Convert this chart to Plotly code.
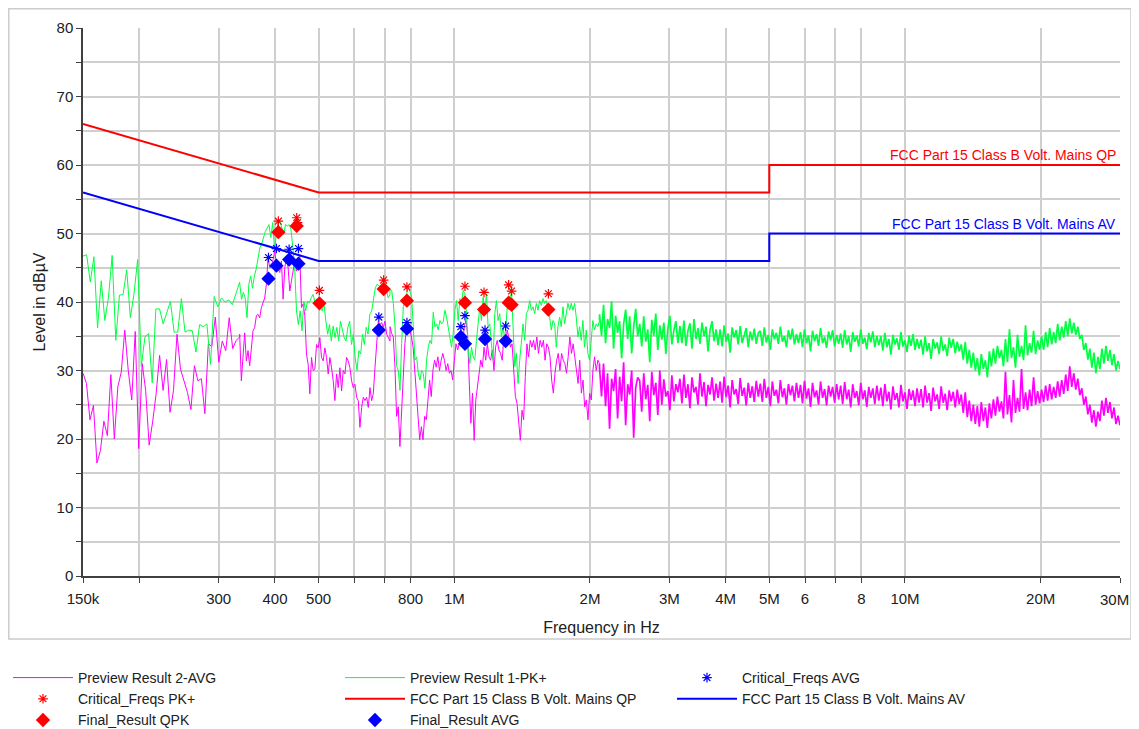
import numpy as np
import plotly.graph_objects as go

# ---------------- data ----------------
# sweep segment edges (Hz)
SEG_EDGES = [150e3, 334e3, 720e3, 2.1e6, 30e6]

# Preview Result 1-PK+ (green), per segment, dBuV
pk_seg1 = [46.7, 46.9, 42.9, 46.6, 36.2, 43.1, 37.3, 40.7, 46.8, 34.4, 41.0, 41.1, 44.7, 37.7, 41.2, 46.2,
           30.6, 34.9, 35.4, 28.2, 39.0, 39.0, 36.8, 38.5, 40.1, 35.6, 35.6, 40.5, 35.6, 35.9, 35.8, 32.7,
           36.7, 36.4, 36.8, 30.9, 40.8, 39.3, 40.6, 40.0, 40.3, 39.6, 41.1, 42.9]
pk_seg2 = [42.8, 40.4, 41.4, 40.6, 37.7, 42.6, 43.8, 42.0, 43.8, 44.8, 46.5, 47.9, 48.5, 49.4, 50.3, 50.8,
           51.3, 49.4, 51.6, 47.7, 50.1, 52.0, 51.7, 50.8, 49.9, 51.3, 51.1, 51.3, 50.6, 47.9, 45.0, 38.7,
           36.7, 38.7, 35.8, 40.1, 38.7, 40.1, 39.9, 40.6, 41.1, 40.1, 40.4, 39.2, 40.1, 38.7, 39.7, 37.2,
           35.3, 36.7, 34.3, 36.5, 34.8, 36.3, 34.3, 37.2, 35.8, 34.8, 34.3, 36.3, 37.2, 33.8, 35.3, 31.9,
           30.0, 32.9, 32.4, 35.3, 33.8, 36.3, 35.3, 38.2, 38.7, 40.6, 42.1, 42.6, 42.3, 42.1, 41.6, 42.3,
           41.8, 40.6, 41.1]
pk_seg3 = [41.9, 41.7, 39.8, 36.4, 30.6, 30.0, 27.1, 33.9, 39.3, 40.2, 41.2, 42.2, 41.5, 40.7, 36.4, 31.5,
           32.0, 29.6, 28.6, 30.0, 29.6, 27.4, 31.5, 33.4, 34.4, 33.9, 38.5, 36.4, 36.8, 35.9, 37.3, 36.8,
           37.1, 38.8, 37.8, 36.4, 34.9, 33.4, 35.4, 38.8, 40.2, 37.3, 40.5, 39.8, 41.7, 41.2, 38.3, 33.0,
           31.0, 33.4, 32.0, 31.5, 34.4, 36.4, 39.3, 37.3, 40.7, 38.3, 41.2, 36.4, 36.8, 33.9, 31.5, 38.3,
           40.2, 37.3, 38.3, 34.9, 36.4, 34.4, 38.3, 40.7, 38.8, 42.2, 36.4, 30.6, 32.5, 28.1, 31.5, 33.9,
           36.8, 34.4, 38.3, 38.8, 40.2, 38.8, 39.3, 38.3, 39.8, 38.8, 40.2, 39.5, 40.5, 39.8, 40.2, 39.0,
           37.8, 35.9, 37.3, 36.8, 33.4, 36.4, 37.8, 36.4, 39.3, 36.8, 38.3, 39.8, 38.8, 39.8, 38.8, 39.8,
           37.8, 34.9, 36.4, 34.4, 37.3, 33.4, 35.9, 32.5, 31.5, 33.9, 37.3, 35.9, 36.8, 36.4, 37.3]
pk_seg4 = [38.2, 35.1, 39.6, 34.0, 37.5, 36.2, 40.1, 33.2, 38.0, 35.5, 37.2, 31.8, 36.8, 38.9, 34.6, 37.9, 32.5, 36.4, 39.0, 35.0,
           36.8, 33.5, 37.9, 34.2, 36.0, 31.2, 37.4, 35.1, 38.3, 33.0, 36.6, 34.5, 37.0, 32.4, 36.2, 38.0, 33.8, 35.9, 37.2, 34.0,
           36.5, 34.0, 37.3, 33.6, 35.8, 36.9, 33.2, 37.5, 34.6, 36.2, 33.9, 37.0, 35.0, 36.4, 32.8, 35.9, 37.2, 34.3, 36.0, 33.7,
           36.0, 33.5, 36.6, 34.2, 35.4, 32.6, 36.3, 34.8, 35.9, 33.8, 36.5, 34.0, 35.2, 36.2, 33.4, 35.7, 34.4, 36.1, 33.9, 35.5,
           35.8, 33.6, 36.3, 34.1, 35.2, 33.0, 36.0, 34.6, 35.5, 33.9, 36.4, 34.2, 35.0, 33.4, 35.9, 34.5, 36.1, 33.8, 35.3, 34.0,
           35.6, 33.4, 36.0, 34.0, 35.1, 32.8, 35.8, 34.3, 35.3, 33.6, 36.2, 34.0, 34.9, 33.3, 35.7, 34.4, 35.9, 33.5, 35.2, 33.9,
           35.4, 33.3, 35.9, 33.8, 35.0, 32.7, 35.6, 34.2, 35.1, 33.5, 36.0, 33.9, 34.8, 33.1, 35.5, 34.1, 35.7, 33.4, 35.0, 33.7,
           35.0, 32.9, 35.5, 33.4, 34.6, 32.3, 35.2, 33.8, 34.7, 33.0, 35.6, 33.5, 34.4, 32.7, 35.1, 33.6, 35.3, 33.0, 34.6, 33.2,
           34.5, 32.3, 35.0, 32.8, 34.0, 31.7, 34.6, 33.2, 34.1, 32.4, 35.0, 32.9, 33.8, 32.1, 34.8, 33.3, 34.6, 32.5, 34.2, 32.8,
           33.8, 31.6, 34.2, 31.0, 33.0, 30.4, 32.6, 30.0, 31.8, 29.3, 32.4, 30.2, 31.5, 29.0, 32.8, 30.6, 33.2, 31.0, 33.6, 31.8,
           33.0, 30.6, 34.6, 31.2, 36.0, 31.8, 33.4, 30.4, 35.2, 32.0, 33.6, 31.5, 36.6, 32.2, 34.0, 32.6, 35.8, 32.4, 34.4, 33.0,
           35.0, 33.0, 35.6, 33.4, 36.2, 33.8, 35.6, 34.0, 36.8, 34.4, 36.4, 34.8, 37.2, 35.0, 37.6, 35.4, 37.0, 35.2, 36.4, 34.6,
           35.2, 33.0, 34.0, 31.6, 33.2, 30.4, 32.6, 29.6, 32.0, 30.2, 33.2, 31.0, 33.6, 31.4, 33.0, 30.8, 32.4, 30.0, 31.4, 30.2]

# Preview Result 2-AVG (magenta), per segment, dBuV
av_seg1 = [29.6, 28.1, 22.8, 24.9, 16.5, 18.3, 22.6, 20.5, 29.4, 20.0, 27.6, 29.8, 35.9, 30.0, 25.7, 35.7,
           18.6, 31.0, 27.1, 19.1, 22.5, 26.6, 32.2, 27.1, 31.6, 23.9, 27.1, 35.3, 30.2, 28.6, 26.8, 24.3,
           30.7, 28.5, 28.8, 23.7, 33.9, 33.5, 37.8, 31.2, 34.3, 32.9, 37.7, 33.2, 34.4, 34.9]
av_seg2 = [35.3, 28.5, 32.4, 35.5, 31.4, 32.9, 30.7, 33.3, 35.8, 36.3, 38.0, 38.2, 37.7, 39.2, 40.1, 40.6,
           42.6, 46.5, 45.0, 45.2, 46.2, 47.4, 45.5, 45.0, 44.3, 46.0, 40.4, 45.0, 46.5, 45.0, 41.6, 43.1,
           44.5, 46.0, 44.5, 45.7, 46.9, 39.2, 39.7, 38.0, 32.4, 30.9, 26.6, 31.9, 30.0, 30.2, 33.8, 33.3,
           34.8, 31.9, 31.4, 33.3, 31.9, 29.5, 31.9, 30.4, 28.5, 25.6, 29.5, 27.5, 30.4, 27.0, 30.0, 29.5,
           31.9, 31.4, 30.4, 28.5, 27.5, 28.0, 26.1, 25.6, 21.7, 24.6, 26.1, 25.6, 26.1, 24.6, 27.5, 25.6,
           26.6, 30.4, 34.3, 37.2, 36.7, 37.0, 36.3, 37.2, 35.3, 34.8, 34.3]
av_seg3 = [36.4, 35.4, 34.9, 30.5, 23.3, 24.7, 18.9, 24.2, 30.0, 33.9, 36.4, 35.9, 35.9, 34.9, 33.4, 29.6,
           26.7, 22.8, 19.9, 21.8, 19.9, 23.3, 22.8, 25.7, 28.6, 26.2, 30.0, 31.5, 30.5, 32.0, 30.0, 31.5,
           32.5, 31.5, 30.0, 31.0, 29.6, 30.0, 28.6, 31.5, 33.9, 33.0, 33.9, 34.9, 33.4, 36.4, 37.3, 35.4,
           28.6, 22.3, 26.7, 19.8, 25.7, 27.6, 30.0, 31.5, 30.5, 33.4, 31.5, 33.9, 32.0, 31.5, 33.0, 30.0,
           33.4, 34.4, 33.0, 32.5, 31.5, 34.9, 33.4, 35.9, 34.9, 33.4, 33.9, 30.5, 26.2, 25.2, 21.8, 19.8,
           24.2, 22.8, 29.1, 33.9, 32.0, 34.4, 33.4, 34.4, 33.0, 34.9, 32.5, 34.4, 33.4, 34.4, 31.5, 33.9,
           33.4, 32.0, 28.6, 26.7, 29.6, 31.5, 32.5, 30.0, 32.5, 31.5, 31.0, 29.6, 32.0, 34.9, 32.5, 33.9,
           32.0, 30.0, 28.1, 31.5, 26.7, 28.6, 24.7, 25.7, 22.8, 26.7, 25.7, 30.0, 32.0, 30.0, 31.5, 31.0]
av_seg4 = [30.5, 26.2, 31.0, 24.8, 29.6, 21.5, 28.8, 27.0, 30.2, 23.0, 29.1, 25.5, 31.2, 22.0, 28.0, 26.5, 30.0, 20.2, 27.5, 29.0,
           28.5, 24.0, 29.6, 25.8, 27.9, 22.6, 29.8, 26.4, 28.2, 23.5, 30.0, 25.0, 28.7, 26.2, 27.0, 24.2, 29.3, 25.5, 28.0, 26.8,
           28.8, 25.2, 29.4, 26.0, 28.0, 24.5, 29.0, 26.8, 27.6, 25.0, 29.6, 26.2, 28.3, 24.8, 27.9, 26.5, 29.0, 25.6, 28.1, 26.0,
           28.4, 25.3, 29.1, 26.1, 27.8, 24.6, 28.6, 26.5, 27.3, 25.1, 28.9, 26.3, 27.5, 24.9, 28.2, 26.0, 27.7, 25.4, 28.5, 26.2,
           28.1, 25.4, 28.8, 26.0, 27.6, 24.8, 28.4, 26.3, 27.2, 25.2, 28.6, 26.1, 27.4, 25.0, 28.0, 26.4, 27.8, 25.5, 28.2, 26.0,
           27.9, 25.2, 28.5, 25.9, 27.4, 24.7, 28.2, 26.1, 27.1, 25.0, 28.4, 26.0, 27.3, 24.9, 27.8, 26.2, 27.6, 25.3, 28.0, 25.8,
           27.8, 25.1, 28.3, 25.8, 27.2, 24.6, 28.0, 26.0, 27.0, 24.9, 28.2, 25.8, 27.1, 24.7, 27.6, 26.0, 27.4, 25.1, 27.8, 25.6,
           27.5, 24.8, 28.0, 25.5, 26.9, 24.3, 27.7, 25.7, 26.7, 24.6, 27.9, 25.5, 26.8, 24.4, 27.3, 25.7, 27.1, 24.8, 27.4, 25.3,
           27.3, 24.6, 27.8, 25.3, 26.7, 24.1, 27.5, 25.5, 26.5, 24.4, 27.7, 25.3, 26.6, 24.2, 27.1, 25.5, 26.9, 24.6, 27.2, 25.1,
           26.5, 23.8, 26.8, 23.2, 25.6, 22.6, 25.0, 22.2, 24.8, 21.8, 25.4, 22.6, 24.6, 21.6, 25.2, 23.0, 25.8, 23.4, 26.2, 24.0,
           25.5, 23.0, 29.8, 23.6, 26.4, 22.4, 28.6, 23.8, 26.0, 24.0, 30.2, 24.4, 26.8, 24.2, 27.2, 24.8, 29.0, 25.0, 27.0, 25.2,
           27.2, 25.4, 27.8, 25.6, 28.0, 25.8, 27.6, 26.0, 28.4, 26.2, 28.6, 26.6, 29.4, 27.0, 30.6, 27.6, 29.6, 27.2, 28.8, 26.4,
           27.4, 25.0, 26.2, 23.6, 25.0, 22.4, 24.2, 21.8, 24.0, 22.6, 25.6, 23.4, 26.0, 23.8, 25.4, 23.0, 24.6, 22.2, 23.4, 22.0]

# limit lines
lim_f = [150e3, 500e3, 5e6, 5e6, 30e6]
lim_qp = [66, 56, 56, 60, 60]
lim_av = [56, 46, 46, 50, 50]

# critical frequencies / final results
crit_pk_f = [407e3, 447e3, 449e3, 502e3, 697e3, 785e3, 1.056e6, 1.164e6, 1.32e6, 1.34e6, 1.617e6]
crit_pk_v = [51.8, 52.3, 51.6, 41.7, 43.2, 42.2, 42.3, 41.4, 42.5, 41.6, 41.2]
final_qpk_f = [407e3, 447e3, 502e3, 697e3, 785e3, 1.056e6, 1.164e6, 1.32e6, 1.34e6, 1.617e6]
final_qpk_v = [50.2, 51.1, 39.8, 41.9, 40.2, 39.9, 38.9, 39.9, 39.6, 38.9]
crit_av_f = [387e3, 403e3, 430e3, 451e3, 680e3, 785e3, 1.034e6, 1.056e6, 1.17e6, 1.30e6]
crit_av_v = [46.5, 47.8, 47.7, 47.8, 37.8, 37.0, 36.4, 38.0, 35.9, 36.5]
final_av_f = [387e3, 403e3, 430e3, 451e3, 680e3, 785e3, 1.034e6, 1.056e6, 1.17e6, 1.30e6]
final_av_v = [43.4, 45.3, 46.2, 45.6, 35.9, 36.1, 34.9, 33.9, 34.6, 34.3]

x_tickvals = [150e3, 200e3, 300e3, 400e3, 500e3, 600e3, 700e3, 800e3, 1e6, 2e6, 3e6, 4e6, 5e6,
              6e6, 7e6, 8e6, 10e6, 20e6, 30e6]
# the last label ("30M") is drawn as an annotation so it can sit flush with the right edge
x_ticktext = ["150k", "", "300", "400", "500", "", "", "800", "1M", "2M", "3M", "4M", "5M",
              "6", "", "8", "10M", "20M", ""]
x_last_label = "30M"
y_tickvals = list(range(0, 81, 5))
y_ticktext = [str(v) if v % 10 == 0 else "" for v in y_tickvals]


def sweep(segs, start):
    f_all, v_all = [], []
    for i, vals in enumerate(segs):
        k = start + i
        f_all.extend(np.geomspace(SEG_EDGES[k], SEG_EDGES[k + 1], len(vals)))
        v_all.extend(vals)
    return f_all, v_all


pk_f_lo, pk_v_lo = sweep([pk_seg1, pk_seg2, pk_seg3], 0)
av_f_lo, av_v_lo = sweep([av_seg1, av_seg2, av_seg3], 0)
pk_f_hi, pk_v_hi = sweep([pk_seg4], 3)
av_f_hi, av_v_hi = sweep([av_seg4], 3)
# join the low and high parts so the line is continuous
pk_f_hi = [pk_f_lo[-1]] + list(pk_f_hi)
pk_v_hi = [pk_v_lo[-1]] + list(pk_v_hi)
av_f_hi = [av_f_lo[-1]] + list(av_f_hi)
av_v_hi = [av_v_lo[-1]] + list(av_v_hi)

# the page body has an 8px margin; the figure fills the rest of the window
OFF = 8
W, H = 1139 - OFF, 729 - OFF
PL, PR, PT, PB = 83, 1120, 28, 576          # plot area edges in window pixels
L, R, T, B = PL - OFF, W - (PR - OFF), PT - OFF, H - (PB - OFF)
PW, PH = PR - PL, PB - PT


def px(xp):
    return (xp - PL) / PW


def py(yp):
    return (PB - yp) / PH


REG = "Liberation Sans, Arial"
MAG, GRN = "#ff00ff", "#00ff40"
TXT = "#202020"

fig = go.Figure()
fig.add_trace(go.Scatter(x=av_f_lo, y=av_v_lo, mode="lines", name="Preview Result 2-AVG",
                         legendgroup="avg", line=dict(color=MAG, width=1), legendrank=1))
fig.add_trace(go.Scatter(x=av_f_hi, y=av_v_hi, mode="lines", name="Preview Result 2-AVG",
                         legendgroup="avg", showlegend=False, line=dict(color=MAG, width=1.7)))
fig.add_trace(go.Scatter(x=pk_f_lo, y=pk_v_lo, mode="lines", name="Preview Result 1-PK+",
                         legendgroup="pk", line=dict(color=GRN, width=1), legendrank=2))
fig.add_trace(go.Scatter(x=pk_f_hi, y=pk_v_hi, mode="lines", name="Preview Result 1-PK+",
                         legendgroup="pk", showlegend=False, line=dict(color=GRN, width=1.7)))
fig.add_trace(go.Scatter(x=lim_f, y=lim_qp, mode="lines", name="FCC Part 15 Class B Volt. Mains QP",
                         line=dict(color="#ff0000", width=2), legendrank=5))
fig.add_trace(go.Scatter(x=lim_f, y=lim_av, mode="lines", name="FCC Part 15 Class B Volt. Mains AV",
                         line=dict(color="#0000ff", width=2), legendrank=6))
fig.add_trace(go.Scatter(x=crit_av_f, y=crit_av_v, mode="markers", name="Critical_Freqs AVG",
                         marker=dict(symbol="asterisk-open", size=8, color="#0000ff",
                                     line=dict(color="#0000ff", width=1.2)), legendrank=3))
fig.add_trace(go.Scatter(x=crit_pk_f, y=crit_pk_v, mode="markers", name="Critical_Freqs PK+",
                         marker=dict(symbol="asterisk-open", size=8, color="#ff0000",
                                     line=dict(color="#ff0000", width=1.2)), legendrank=4))
fig.add_trace(go.Scatter(x=final_qpk_f, y=final_qpk_v, mode="markers", name="Final_Result QPK",
                         marker=dict(symbol="diamond", size=11, color="#ff0000"), legendrank=7))
fig.add_trace(go.Scatter(x=final_av_f, y=final_av_v, mode="markers", name="Final_Result AVG",
                         marker=dict(symbol="diamond", size=11, color="#0000ff"), legendrank=8))

fig.update_xaxes(type="log", range=[np.log10(150e3), np.log10(30e6)],
                 tickmode="array", tickvals=x_tickvals, ticktext=x_ticktext,
                 showgrid=True, gridcolor="#cfcfcf", gridwidth=1.5,
                 showline=True, linecolor="#404040", linewidth=1.5,
                 ticks="outside", ticklen=5, tickcolor="#404040",
                 tickfont=dict(family=REG, size=15, color=TXT),
                 ticklabelstandoff=3, zeroline=False, automargin=False,
                 title=dict(text="Frequency in Hz", font=dict(family=REG, size=16, color=TXT),
                            standoff=16))
fig.update_yaxes(range=[0, 80], tickmode="array", tickvals=y_tickvals, ticktext=y_ticktext,
                 showgrid=True, gridcolor="#cfcfcf", gridwidth=1.5,
                 showline=True, linecolor="#404040", linewidth=1.5,
                 ticks="outside", ticklen=5, tickcolor="#404040",
                 tickfont=dict(family=REG, size=15, color=TXT), zeroline=False,
                 automargin=False,
                 title=dict(text="Level in dBµV", font=dict(family=REG, size=16, color=TXT),
                            standoff=7))

fig.add_annotation(xref="x", yref="paper", x=np.log10(x_tickvals[-1]), y=py(599),
                   xanchor="right", yanchor="middle", xshift=11, text=x_last_label,
                   showarrow=False, font=dict(family=REG, size=15, color=TXT))
fig.add_annotation(xref="paper", yref="y", x=px(1118), y=60, xanchor="right", yanchor="bottom",
                   text="FCC Part 15 Class B Volt. Mains QP", showarrow=False,
                   font=dict(family=REG, size=14, color="#ff0000"))
fig.add_annotation(xref="paper", yref="y", x=px(1118), y=50, xanchor="right", yanchor="bottom",
                   text="FCC Part 15 Class B Volt. Mains AV", showarrow=False,
                   font=dict(family=REG, size=14, color="#0000ff"))

fig.add_shape(type="rect", xref="paper", yref="paper", x0=px(8.8), x1=px(1131), y0=py(639), y1=py(8.8),
              line=dict(color="#cccccc", width=1.5), layer="below")

fig.update_layout(
    width=W, height=H, margin=dict(l=L, r=R, t=T, b=B, autoexpand=False),
    paper_bgcolor="white", plot_bgcolor="white",
    showlegend=True,
    legend=dict(orientation="h", x=px(8), y=py(662), xanchor="left", yanchor="top",
                entrywidth=257, entrywidthmode="pixels", itemwidth=60,
                font=dict(family=REG, size=14, color=TXT),
                bgcolor="rgba(0,0,0,0)", traceorder="normal", tracegroupgap=0),
)

fig.write_html("out.html")
